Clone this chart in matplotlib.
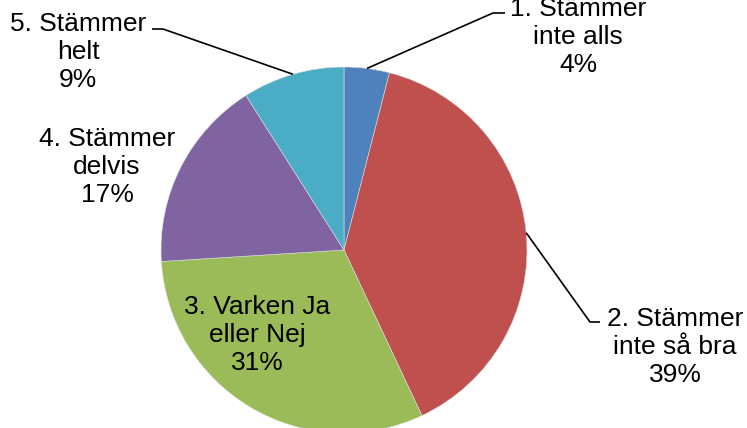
import numpy as np
import matplotlib.pyplot as plt

plt.rcParams['font.family'] = ['Liberation Sans', 'DejaVu Sans']

labels = ["1. Stämmer\ninte alls", "2. Stämmer\ninte så bra", "3. Varken Ja\neller Nej",
          "4. Stämmer\ndelvis", "5. Stämmer\nhelt"]
values = [4, 39, 31, 17, 9]
colors = ["#4F81BD", "#C0504D", "#9BBB59", "#8064A2", "#4BACC6"]

W, H = 747, 428
cx, cy, r = 344, H - 250, 183

# label layout in pixels (x, y from top), elbow points for leader lines (None = inside)
text_pos = [(578, 37), (675, 347), (257, 335), (107, 167), (78, 52)]
elbows = [[(493, 13), (505, 13)], [(590, 322), (600, 322)], None, None, [(163, 29), (152, 29)]]

fig = plt.figure(figsize=(W / 100, H / 100), dpi=100)
ax = fig.add_axes([0, 0, 1, 1])

wedges, _ = ax.pie(values, colors=colors, startangle=90, counterclock=False,
                   center=(cx, cy), radius=r, frame=True,
                   wedgeprops=dict(edgecolor='#dddddd', linewidth=0.4))
ax.set_xlim(0, W)
ax.set_ylim(0, H)
ax.set_aspect('equal')
ax.axis('off')

total = sum(values)
start = 0.0
for lab, v, (tx, ty), elb in zip(labels, values, text_pos, elbows):
    mid = np.deg2rad(start + 360 * v / total / 2)
    start += 360 * v / total
    pct = f"{round(100 * v / total)}%"
    ax.text(tx, H - ty, f"{lab}\n{pct}", ha='center', va='center', fontsize=19,
            linespacing=1.2, color='black')
    if elb is not None:
        ax_x = cx + r * np.sin(mid)
        ax_y = cy + r * np.cos(mid)
        xs = [ax_x] + [p[0] for p in elb]
        ys = [ax_y] + [H - p[1] for p in elb]
        ax.plot(xs, ys, color='black', linewidth=1.2, solid_capstyle='butt')

fig.savefig("out.png", dpi=100)
